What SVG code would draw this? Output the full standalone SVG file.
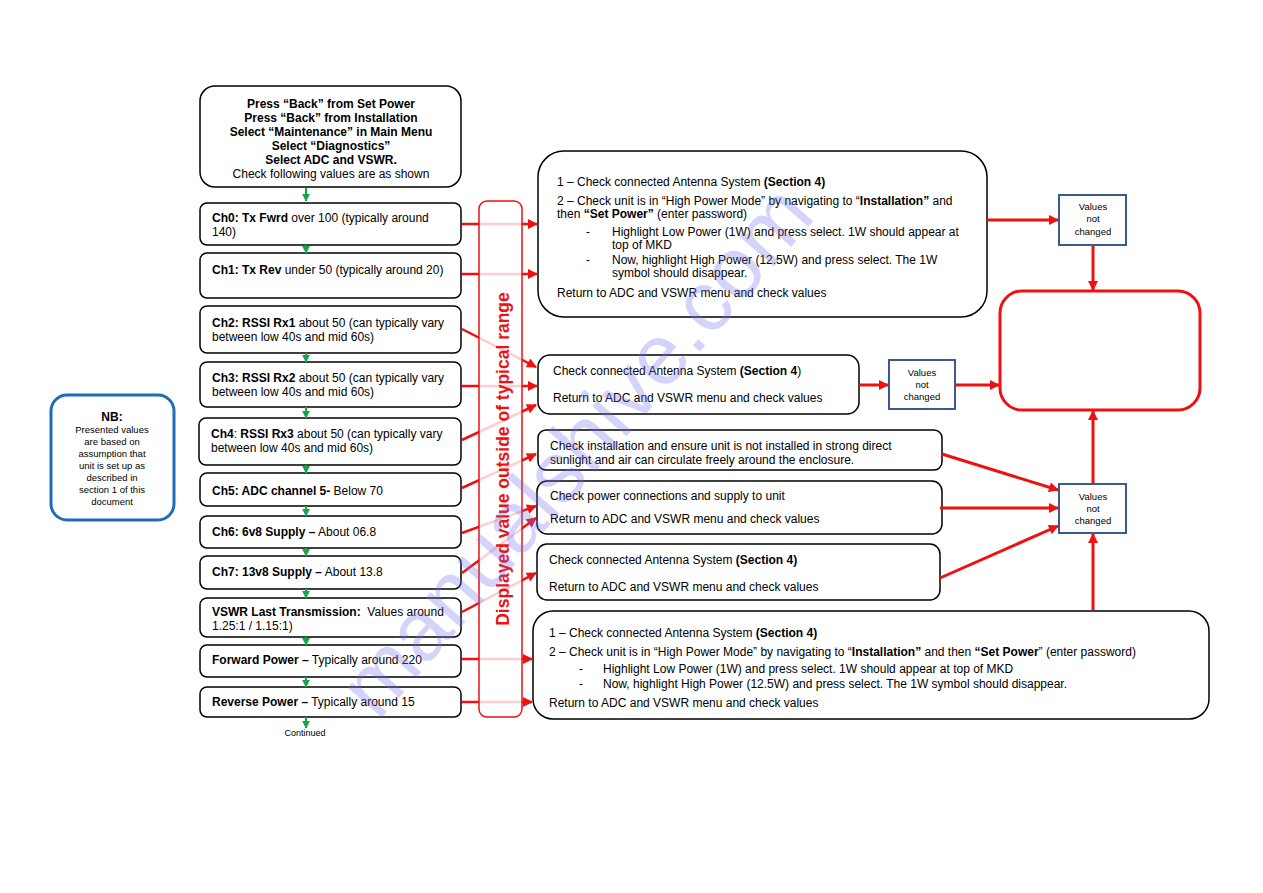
<svg xmlns="http://www.w3.org/2000/svg" width="1263" height="893" viewBox="0 0 1263 893">
<defs>
<style>
.box{fill:#fff;stroke:#000;stroke-width:1.5}
.t{font-family:"Liberation Sans",Arial,sans-serif;font-size:12px;fill:#000}
.m{font-family:"Liberation Sans",Arial,sans-serif;font-size:12px;fill:#000}
.s{font-family:"Liberation Sans",Arial,sans-serif;font-size:9.5px;fill:#000}
.b{font-weight:bold}
.vnc{fill:#fff;stroke:#3c5a8c;stroke-width:2}
.red{stroke:#ee1111;stroke-width:2.5;fill:none;marker-end:url(#ra)}
.red3{stroke:#ee1111;stroke-width:3;fill:none;marker-end:url(#ra)}
.grn{stroke:#11a84a;stroke-width:2;fill:none;marker-end:url(#ga)}
</style>
<marker id="ra" viewBox="0 0 10 10" refX="9" refY="5" markerWidth="11" markerHeight="10" markerUnits="userSpaceOnUse" orient="auto"><path d="M0,0 L10,5 L0,10 z" fill="#ee1111"/></marker>
<marker id="ga" viewBox="0 0 10 10" refX="9" refY="5" markerWidth="8" markerHeight="8" markerUnits="userSpaceOnUse" orient="auto"><path d="M0,0 L10,5 L0,10 z" fill="#11a84a"/></marker>
</defs>
<rect width="1263" height="893" fill="#fff"/>

<g id="start">
<rect class="box" x="200" y="86" width="261" height="101" rx="15"/>
<text class="t b" text-anchor="middle" x="331" y="108">Press “Back” from Set Power</text>
<text class="t b" text-anchor="middle" x="331" y="122">Press “Back” from Installation</text>
<text class="t b" text-anchor="middle" x="331" y="136">Select “Maintenance” in Main Menu</text>
<text class="t b" text-anchor="middle" x="331" y="150">Select “Diagnostics”</text>
<text class="t b" text-anchor="middle" x="331" y="164">Select ADC and VSWR.</text>
<text class="t" text-anchor="middle" x="331" y="178">Check following values are as shown</text>
</g>
<g id="ch0"><rect class="box" x="200" y="203" width="261" height="42" rx="7"/>
<text class="t" x="212" y="222"><tspan class="b">Ch0: Tx Fwrd</tspan> over 100 (typically around</text>
<text class="t" x="212" y="236">140)</text></g>
<g id="ch1"><rect class="box" x="200" y="253" width="261" height="45" rx="7"/>
<text class="t" x="212" y="274"><tspan class="b">Ch1: Tx Rev</tspan> under 50 (typically around 20)</text></g>
<g id="ch2"><rect class="box" x="200" y="306" width="261" height="47" rx="7"/>
<text class="t" x="212" y="327"><tspan class="b">Ch2: RSSI Rx1</tspan> about 50 (can typically vary</text>
<text class="t" x="212" y="341">between low 40s and mid 60s)</text></g>
<g id="ch3"><rect class="box" x="200" y="362" width="261" height="45" rx="7"/>
<text class="t" x="212" y="382"><tspan class="b">Ch3: RSSI Rx2</tspan> about 50 (can typically vary</text>
<text class="t" x="212" y="396">between low 40s and mid 60s)</text></g>
<g id="ch4"><rect class="box" x="199" y="418" width="262" height="47" rx="7"/>
<text class="t" x="211" y="438"><tspan class="b">Ch4</tspan>: <tspan class="b">RSSI Rx3</tspan> about 50 (can typically vary</text>
<text class="t" x="211" y="452">between low 40s and mid 60s)</text></g>
<g id="ch5"><rect class="box" x="200" y="473" width="261" height="33" rx="7"/>
<text class="t" x="212" y="495"><tspan class="b">Ch5: ADC channel 5-</tspan> Below 70</text></g>
<g id="ch6"><rect class="box" x="200" y="516" width="261" height="32" rx="7"/>
<text class="t" x="212" y="536"><tspan class="b">Ch6: 6v8 Supply –</tspan> About 06.8</text></g>
<g id="ch7"><rect class="box" x="200" y="556" width="261" height="33" rx="7"/>
<text class="t" x="212" y="576"><tspan class="b">Ch7: 13v8 Supply –</tspan> About 13.8</text></g>
<g id="vswr"><rect class="box" x="200" y="598" width="261" height="39" rx="7"/>
<text class="t" x="212" y="616" xml:space="preserve"><tspan class="b">VSWR Last Transmission:</tspan>  Values around</text>
<text class="t" x="212" y="630">1.25:1 / 1.15:1)</text></g>
<g id="fwd"><rect class="box" x="200" y="645" width="261" height="32" rx="7"/>
<text class="t" x="212" y="664"><tspan class="b">Forward Power –</tspan> Typically around 220</text></g>
<g id="rev"><rect class="box" x="200" y="687" width="261" height="30" rx="7"/>
<text class="t" x="212" y="706"><tspan class="b">Reverse Power –</tspan> Typically around 15</text></g>
<text id="continued" x="305" y="736" text-anchor="middle" font-family="Liberation Sans,Arial,sans-serif" font-size="9px" fill="#000">Continued</text>

<g id="nb">
<rect x="51" y="395" width="123" height="125" rx="16" fill="#fff" stroke="#1f6db4" stroke-width="3"/>
<text x="112" y="421" text-anchor="middle" font-family="Liberation Sans,Arial,sans-serif" font-size="12px" font-weight="bold">NB:</text>
<text class="s" text-anchor="middle" x="112" y="433">Presented values</text>
<text class="s" text-anchor="middle" x="112" y="445">are based on</text>
<text class="s" text-anchor="middle" x="112" y="457">assumption that</text>
<text class="s" text-anchor="middle" x="112" y="469">unit is set up as</text>
<text class="s" text-anchor="middle" x="112" y="481">described in</text>
<text class="s" text-anchor="middle" x="112" y="493">section 1 of this</text>
<text class="s" text-anchor="middle" x="112" y="505">document</text>
</g>

<g id="action1"><rect class="box" x="538" y="151" width="449" height="166" rx="26"/>
<text class="m" x="557" y="186">1 – Check connected Antenna System <tspan class="b">(Section 4)</tspan></text>
<text class="m" x="557" y="205">2 – Check unit is in “High Power Mode” by navigating to “<tspan class="b">Installation”</tspan> and</text>
<text class="m" x="557" y="218">then <tspan class="b">“Set Power”</tspan> (enter password)</text>
<text class="m" x="586" y="236">-</text>
<text class="m" x="612" y="236">Highlight Low Power (1W) and press select. 1W should appear at</text>
<text class="m" x="612" y="249">top of MKD</text>
<text class="m" x="586" y="264">-</text>
<text class="m" x="612" y="264">Now, highlight High Power (12.5W) and press select. The 1W</text>
<text class="m" x="612" y="277">symbol should disappear.</text>
<text class="m" x="557" y="297">Return to ADC and VSWR menu and check values</text></g>

<g id="action2"><rect class="box" x="538" y="355" width="321" height="59" rx="12"/>
<text class="m" x="553" y="375">Check connected Antenna System <tspan class="b">(Section 4</tspan>)</text>
<text class="m" x="553" y="402">Return to ADC and VSWR menu and check values</text></g>

<g id="action3"><rect class="box" x="538" y="430" width="404" height="40" rx="8"/>
<text class="m" x="550" y="450">Check installation and ensure unit is not installed in strong direct</text>
<text class="m" x="550" y="464">sunlight and air can circulate freely around the enclosure.</text></g>

<g id="action4"><rect class="box" x="537" y="481" width="405" height="53" rx="10"/>
<text class="m" x="550" y="500">Check power connections and supply to unit</text>
<text class="m" x="550" y="523">Return to ADC and VSWR menu and check values</text></g>

<g id="action5"><rect class="box" x="537" y="544" width="403" height="56" rx="10"/>
<text class="m" x="549" y="564">Check connected Antenna System <tspan class="b">(Section 4)</tspan></text>
<text class="m" x="549" y="591">Return to ADC and VSWR menu and check values</text></g>

<g id="action6"><rect class="box" x="533" y="611" width="676" height="108" rx="20"/>
<text class="m" x="549" y="637">1 – Check connected Antenna System <tspan class="b">(Section 4)</tspan></text>
<text class="m" x="549" y="656">2 – Check unit is in “High Power Mode” by navigating to “<tspan class="b">Installation”</tspan> and then <tspan class="b">“Set Power</tspan>” (enter password)</text>
<text class="m" x="579" y="673">-</text>
<text class="m" x="603" y="673">Highlight Low Power (1W) and press select. 1W should appear at top of MKD</text>
<text class="m" x="579" y="688">-</text>
<text class="m" x="603" y="688">Now, highlight High Power (12.5W) and press select. The 1W symbol should disappear.</text>
<text class="m" x="549" y="707">Return to ADC and VSWR menu and check values</text></g>

<g id="vncA"><rect class="vnc" x="1059" y="195" width="67" height="50"/>
<text class="s" text-anchor="middle" x="1093" y="210">Values</text>
<text class="s" text-anchor="middle" x="1093" y="222">not</text>
<text class="s" text-anchor="middle" x="1093" y="235">changed</text></g>
<g id="vncB"><rect class="vnc" x="889" y="360" width="66" height="49"/>
<text class="s" text-anchor="middle" x="922" y="376">Values</text>
<text class="s" text-anchor="middle" x="922" y="388">not</text>
<text class="s" text-anchor="middle" x="922" y="400">changed</text></g>
<g id="vncC"><rect class="vnc" x="1059" y="484" width="67" height="49"/>
<text class="s" text-anchor="middle" x="1093" y="500">Values</text>
<text class="s" text-anchor="middle" x="1093" y="512">not</text>
<text class="s" text-anchor="middle" x="1093" y="524">changed</text></g>
<g id="result"><rect x="1000" y="291" width="200" height="119" rx="22" fill="#fff" stroke="#ee1111" stroke-width="3"/></g>

<g id="connectors">
<line class="grn" x1="306" y1="188" x2="306" y2="201"/>
<line class="grn" x1="306" y1="245" x2="306" y2="253"/>
<line class="grn" x1="306" y1="353" x2="306" y2="362"/>
<line class="grn" x1="306" y1="407" x2="306" y2="418"/>
<line class="grn" x1="306" y1="465" x2="306" y2="473"/>
<line class="grn" x1="306" y1="506" x2="306" y2="516"/>
<line class="grn" x1="306" y1="548" x2="306" y2="556"/>
<line class="grn" x1="306" y1="589" x2="306" y2="598"/>
<line class="grn" x1="306" y1="637" x2="306" y2="645"/>
<line class="grn" x1="306" y1="677" x2="306" y2="687"/>
<line class="grn" x1="306" y1="717" x2="306" y2="728"/>

<line class="red" x1="462" y1="224" x2="537" y2="224"/>
<line class="red" x1="462" y1="274" x2="537" y2="274"/>
<line class="red" x1="462" y1="329" x2="536" y2="367"/>
<line class="red" x1="462" y1="386" x2="537" y2="386"/>
<line class="red" x1="462" y1="440" x2="536" y2="405"/>
<line class="red" x1="462" y1="488" x2="536" y2="454"/>
<line class="red" x1="462" y1="533" x2="536" y2="506"/>
<line class="red" x1="462" y1="573" x2="536" y2="518"/>
<line class="red" x1="462" y1="612" x2="536" y2="573"/>
<line class="red" x1="462" y1="659" x2="532" y2="659"/>
<line class="red" x1="462" y1="702" x2="532" y2="702"/>

<line class="red3" x1="987" y1="220" x2="1058" y2="220"/>
<line class="red3" x1="1093" y1="245" x2="1093" y2="290"/>
<line class="red3" x1="859" y1="385" x2="888" y2="385"/>
<line class="red3" x1="955" y1="385" x2="999" y2="385"/>
<line class="red3" x1="942" y1="454" x2="1058" y2="490"/>
<line class="red3" x1="940" y1="508" x2="1058" y2="508"/>
<line class="red3" x1="940" y1="578" x2="1058" y2="526"/>
<line class="red3" x1="1093" y1="610" x2="1093" y2="534"/>
<line class="red3" x1="1093" y1="483" x2="1093" y2="411"/>
</g>

<g id="band">
<rect x="479" y="201" width="43" height="516" rx="8" fill="#fff" fill-opacity="0.8" stroke="#ee1111" stroke-width="1.5"/>
<text x="0" y="0" transform="translate(509 459) rotate(-90)" text-anchor="middle" font-family="Liberation Sans,Arial,sans-serif" font-size="17.5px" font-weight="bold" fill="#ee1111">Displayed value outside of typical range</text>
</g>

<text x="378" y="722" transform="rotate(-49 378 722)" font-family="Liberation Sans,Arial,sans-serif" font-size="86" fill="#6f6ff0" fill-opacity="0.3">manualshive.com</text>
</svg>
